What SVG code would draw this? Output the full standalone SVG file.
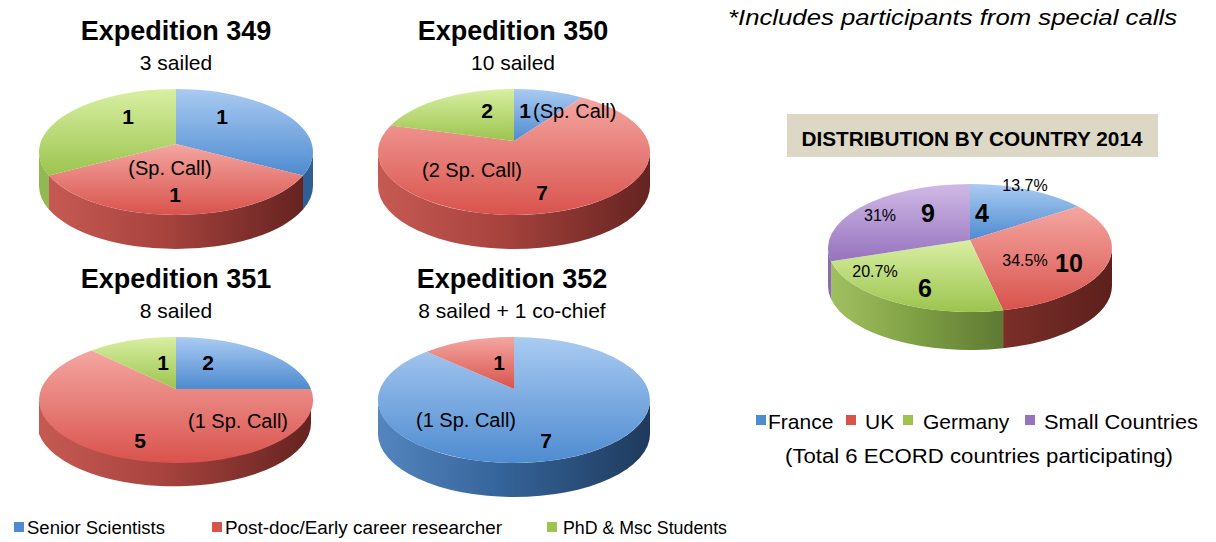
<svg xmlns="http://www.w3.org/2000/svg" width="1216" height="542" viewBox="0 0 1216 542">
<defs>
<linearGradient id="tBlue" x1="0" y1="0" x2="0" y2="1"><stop offset="0" stop-color="#aacbf2"/><stop offset="1" stop-color="#4e8bd0"/></linearGradient>
<linearGradient id="tRed" x1="0" y1="0" x2="0" y2="1"><stop offset="0" stop-color="#f4a6a1"/><stop offset="1" stop-color="#d9534d"/></linearGradient>
<linearGradient id="tGreen" x1="0" y1="0" x2="0" y2="1"><stop offset="0" stop-color="#d9efa3"/><stop offset="1" stop-color="#9cc44e"/></linearGradient>
<linearGradient id="tPurple" x1="0" y1="0" x2="0" y2="1"><stop offset="0" stop-color="#d0b9e6"/><stop offset="1" stop-color="#9573be"/></linearGradient>
<linearGradient id="sRed" x1="0" y1="0" x2="1" y2="0"><stop offset="0" stop-color="#c65a53"/><stop offset="0.45" stop-color="#a8433e"/><stop offset="1" stop-color="#652320"/></linearGradient>
<linearGradient id="sBlue" x1="0" y1="0" x2="1" y2="0"><stop offset="0" stop-color="#5485be"/><stop offset="0.45" stop-color="#35649a"/><stop offset="1" stop-color="#1f3a5c"/></linearGradient>
<linearGradient id="sGreen" x1="0" y1="0" x2="1" y2="0"><stop offset="0" stop-color="#a0c060"/><stop offset="0.5" stop-color="#7f9f44"/><stop offset="1" stop-color="#5e7a32"/></linearGradient>
<linearGradient id="sRedDark" x1="0" y1="0" x2="1" y2="0"><stop offset="0" stop-color="#7c2e29"/><stop offset="1" stop-color="#5c201c"/></linearGradient>
</defs>
<style>
text{font-family:"Liberation Sans",Arial,sans-serif;fill:#000}
.title{font-size:27px;font-weight:bold;text-anchor:middle}
.sub{font-size:21px;text-anchor:middle}
.num{font-size:21px;font-weight:bold;text-anchor:middle}
.lab{font-size:20px;text-anchor:middle}
.big{font-size:25px;font-weight:bold;text-anchor:middle}
.pct{font-size:16px;text-anchor:middle}
.leg{font-size:18px}
.leg2{font-size:21px}
</style>
<rect width="1216" height="542" fill="#ffffff"/>

<g id="exp349">
<text class="title" x="176" y="40">Expedition 349</text>
<text class="sub" x="176" y="70">3 sailed</text>
<path d="M313,152 A137,63 0 0 1 303,175.6 L303,209.6 A137,63 0 0 0 313,186 Z" fill="#2f5f95"/>
<path d="M303,175.6 A137,63 0 0 1 49,175.6 L49,209.6 A137,63 0 0 0 303,209.6 Z" fill="url(#sRed)"/>
<path d="M49,175.6 A137,63 0 0 1 39,152 L39,186 A137,63 0 0 0 49,209.6 Z" fill="#93b753"/>
<path d="M176,144 L176,89 A137,63 0 0 1 303,175.6 Z" fill="url(#tBlue)"/>
<path d="M176,144 L303,175.6 A137,63 0 0 1 49,175.6 Z" fill="url(#tRed)"/>
<path d="M176,144 L49,175.6 A137,63 0 0 1 176,89 Z" fill="url(#tGreen)"/>
<text class="num" x="128" y="124">1</text>
<text class="num" x="222" y="124">1</text>
<text class="lab" x="170" y="175">(Sp. Call)</text>
<text class="num" x="175" y="202">1</text>
</g>

<g id="exp350">
<text class="title" x="513" y="40">Expedition 350</text>
<text class="sub" x="513" y="70">10 sailed</text>
<path d="M650,152 A136,63 0 0 1 378,152 L378,186 A136,63 0 0 0 650,186 Z" fill="url(#sRed)"/>
<path d="M514,141 L514,89 A136,63 0 0 1 582,97.4 Z" fill="url(#tBlue)"/>
<path d="M514,141 L582,97.4 A136,63 0 1 1 390.7,125.4 Z" fill="url(#tRed)"/>
<path d="M514,141 L390.7,125.4 A136,63 0 0 1 514,89 Z" fill="url(#tGreen)"/>
<text class="num" x="487" y="118">2</text>
<text class="num" x="525" y="118">1</text>
<text class="lab" x="533" y="118" style="text-anchor:start">(Sp. Call)</text>
<text class="lab" x="472" y="177">(2 Sp. Call)</text>
<text class="num" x="542" y="200">7</text>
</g>

<g id="exp351">
<text class="title" x="176" y="288">Expedition 351</text>
<text class="sub" x="176" y="318">8 sailed</text>
<path d="M311,389 A137,63 0 0 1 39,400 L39,434 A137,63 0 0 0 311,423 Z" fill="url(#sRed)"/>
<path d="M176,389 L176,337 A137,63 0 0 1 311,389 Z" fill="url(#tBlue)"/>
<path d="M176,389 L311,389 A137,63 0 1 1 91.6,350.4 Z" fill="url(#tRed)"/>
<path d="M176,389 L91.6,350.4 A137,63 0 0 1 176,337 Z" fill="url(#tGreen)"/>
<text class="num" x="163" y="370">1</text>
<text class="num" x="208" y="370">2</text>
<text class="lab" x="238" y="428">(1 Sp. Call)</text>
<text class="num" x="140" y="448">5</text>
</g>

<g id="exp352">
<text class="title" x="512" y="288">Expedition 352</text>
<text class="sub" x="512" y="318">8 sailed + 1 co-chief</text>
<path d="M650,400 A136,63 0 0 1 378,400 L378,434 A136,63 0 0 0 650,434 Z" fill="url(#sBlue)"/>
<path d="M514,389 L514,337 A136,63 0 1 1 426.6,351.7 Z" fill="url(#tBlue)"/>
<path d="M514,389 L426.6,351.7 A136,63 0 0 1 514,337 Z" fill="url(#tRed)"/>
<text class="num" x="499" y="370">1</text>
<text class="lab" x="466" y="427">(1 Sp. Call)</text>
<text class="num" x="546" y="448">7</text>
</g>

<g id="legend-roles">
<rect x="14" y="522" width="10" height="10" fill="#4e8bd0"/>
<text class="leg" x="27" y="534" textLength="138" lengthAdjust="spacingAndGlyphs">Senior Scientists</text>
<rect x="212" y="522" width="10" height="10" fill="#d9534d"/>
<text class="leg" x="225" y="534" textLength="277" lengthAdjust="spacingAndGlyphs">Post-doc/Early career researcher</text>
<rect x="547" y="522" width="10" height="10" fill="#9cc44e"/>
<text class="leg" x="563" y="534" textLength="164" lengthAdjust="spacingAndGlyphs">PhD &amp; Msc Students</text>
</g>

<g id="note">
<text x="728" y="25" style="font-size:22px;font-style:italic" textLength="449" lengthAdjust="spacingAndGlyphs">*Includes participants from special calls</text>
</g>

<g id="country">
<rect x="787" y="114" width="371" height="43" fill="#ddd8c6"/>
<text x="972" y="146" style="font-size:21px;font-weight:bold;text-anchor:middle" textLength="341" lengthAdjust="spacingAndGlyphs">DISTRIBUTION BY COUNTRY 2014</text>
<path d="M1112,248 A142,64 0 0 1 1003.1,310.2 L1003.1,348.2 A142,64 0 0 0 1112,286 Z" fill="url(#sRedDark)"/>
<path d="M1003.1,310.2 A142,64 0 0 1 831.1,261.3 L831.1,299.3 A142,64 0 0 0 1003.1,348.2 Z" fill="url(#sGreen)"/>
<path d="M831.1,261.3 A142,64 0 0 1 828,248 L828,286 A142,64 0 0 0 831.1,299.3 Z" fill="#8a6aae"/>
<path d="M970,240 L970,184 A142,64 0 0 1 1078.2,206.6 Z" fill="url(#tBlue)"/>
<path d="M970,240 L1078.2,206.6 A142,64 0 0 1 1003.1,310.2 Z" fill="url(#tRed)"/>
<path d="M970,240 L1003.1,310.2 A142,64 0 0 1 831.1,261.3 Z" fill="url(#tGreen)"/>
<path d="M970,240 L831.1,261.3 A142,64 0 0 1 970,184 Z" fill="url(#tPurple)"/>
<text class="pct" x="1025" y="191">13.7%</text>
<text class="pct" x="880" y="221">31%</text>
<text class="big" x="928" y="222">9</text>
<text class="big" x="982" y="222">4</text>
<text class="pct" x="1025" y="266">34.5%</text>
<text class="big" x="1069" y="272">10</text>
<text class="pct" x="875" y="277">20.7%</text>
<text class="big" x="925" y="297">6</text>
</g>

<g id="legend-country">
<rect x="756" y="415" width="10" height="10" fill="#4e8bd0"/>
<text class="leg2" x="768" y="429">France</text>
<rect x="846" y="415" width="10" height="10" fill="#d9534d"/>
<text class="leg2" x="865" y="429">UK</text>
<rect x="903" y="415" width="10" height="10" fill="#9cc44e"/>
<text class="leg2" x="923" y="429">Germany</text>
<rect x="1025" y="415" width="10" height="10" fill="#9573be"/>
<text class="leg2" x="1044" y="429" textLength="154" lengthAdjust="spacingAndGlyphs">Small Countries</text>
<text x="979" y="463" style="font-size:20px;text-anchor:middle" textLength="388" lengthAdjust="spacingAndGlyphs">(Total 6 ECORD countries participating)</text>
</g>
</svg>
